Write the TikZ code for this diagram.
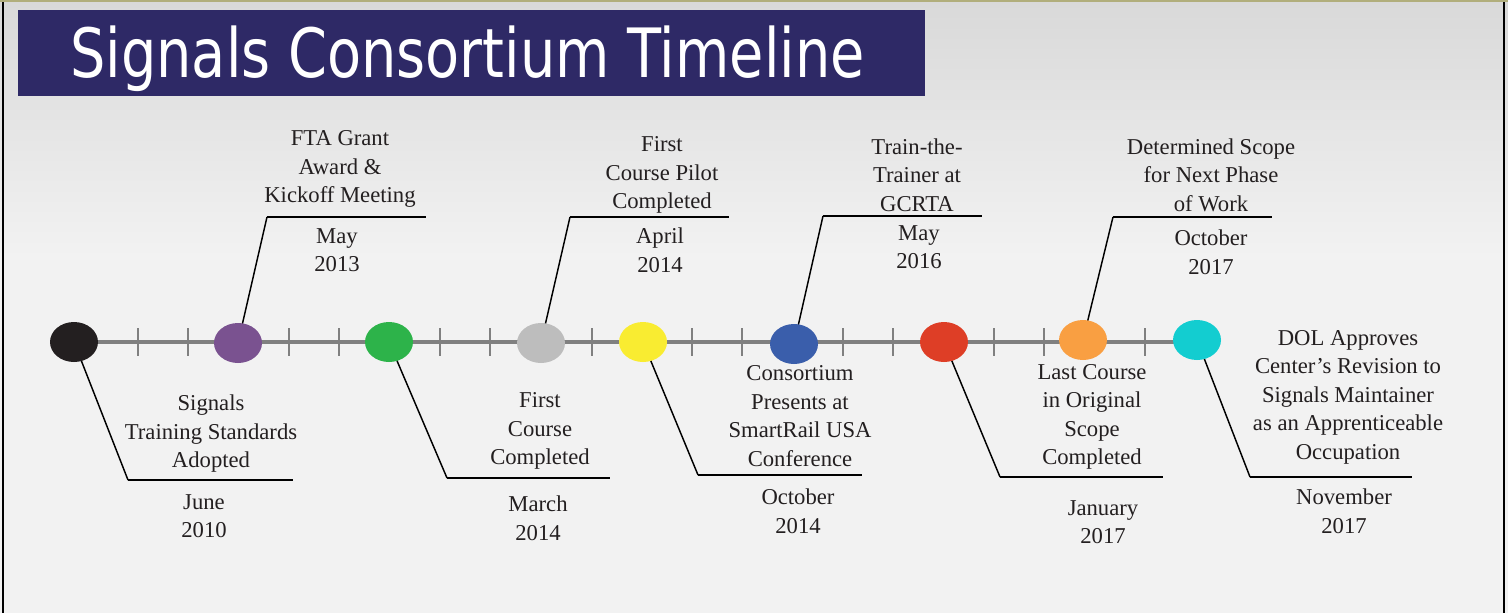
\documentclass[tikz,border=0pt]{standalone}
\usepackage{fontspec}
\setmainfont{Liberation Serif}
\newfontfamily\titlefont{DejaVu Sans}
\usetikzlibrary{shapes.geometric,backgrounds}
\definecolor{bannerc}{HTML}{2E2966}
\definecolor{linec}{HTML}{808080}
\definecolor{txtc}{HTML}{231F20}
\definecolor{cA}{HTML}{231F20}
\definecolor{cB}{HTML}{7A5290}
\definecolor{cC}{HTML}{2DB34A}
\definecolor{cD}{HTML}{BDBDBD}
\definecolor{cE}{HTML}{F9EC31}
\definecolor{cF}{HTML}{3A5EAB}
\definecolor{cG}{HTML}{DE3E26}
\definecolor{cH}{HTML}{F99F42}
\definecolor{cI}{HTML}{13CDD0}
\tikzset{
  dot/.style={ellipse, minimum width=36pt, minimum height=30pt, inner sep=0pt},
  tickmark/.style={draw=linec, line width=1.9pt},
  conn/.style={draw=black, line width=1.1pt},
  uline/.style={draw=black, line width=1.9pt},
  lbl/.style={align=center, text=txtc, inner sep=0pt, font=\fontsize{17}{21.4}\selectfont},
}
\begin{document}
\begin{tikzpicture}[x=0.75pt, y=-0.75pt]
\useasboundingbox (0,0) rectangle (1508,613);
\begin{scope}[on background layer]
% background
\fill[top color=black!15, bottom color=black!5] (0,0) rectangle (1508,260);
\fill[black!5] (0,260) rectangle (1508,613);
\draw[black, line width=2pt] (3,0) -- (3,613);
\draw[black, line width=2pt] (1504,0) -- (1504,613);
\draw[olive!60!black!50, line width=0.8pt] (0,1) -- (1508,1);
% banner
\fill[bannerc] (18,10) rectangle (925,96);
\end{scope}
\node[anchor=base west, inner sep=0pt, text=white] (title) at (70,78)
  {\scalebox{0.82}[1]{\titlefont\fontsize{51}{60}\selectfont Signals Consortium Timeline}};

% dots
\node[dot, fill=cA] (e1) at (74,342) {};
\node[dot, fill=cB] (e2) at (238,343) {};
\node[dot, fill=cC] (e3) at (389,342) {};
\node[dot, fill=cD] (e4) at (541,343) {};
\node[dot, fill=cE] (e5) at (643,342) {};
\node[dot, fill=cF] (e6) at (794,344) {};
\node[dot, fill=cG] (e7) at (944,342) {};
\node[dot, fill=cH] (e8) at (1083,340) {};
\node[dot, fill=cI] (e9) at (1197,340) {};

\begin{scope}[on background layer]
\draw[draw=linec, line width=3pt] (e1.center) -- (e1.center -| e9.center);
\foreach \x in {138,188,289,339,440,490,592,692,742,843,893,994,1044,1145}
  \draw[tickmark] (\x,328) -- (\x,356);
% connector coordinates
\coordinate (k1) at (128,480); \coordinate (m1) at (293,480);
\coordinate (k2) at (267,217); \coordinate (m2) at (426,217);
\coordinate (k3) at (447,478); \coordinate (m3) at (610,478);
\coordinate (k4) at (570,217); \coordinate (m4) at (729,217);
\coordinate (k5) at (698,475); \coordinate (m5) at (862,475);
\coordinate (k6) at (823,216); \coordinate (m6) at (982,216);
\coordinate (k7) at (1000,477); \coordinate (m7) at (1163,477);
\coordinate (k8) at (1113,217); \coordinate (m8) at (1272,217);
\coordinate (k9) at (1250,477); \coordinate (m9) at (1412,477);
\foreach \i in {1,...,9}{
  \draw[conn] (e\i.center) -- (k\i);
  \draw[uline] (k\i) -- (m\i);
}
\end{scope}

% labels
\node[lbl] (t1) at (211,434) {Signals\\Training Standards\\Adopted};
\node[lbl] (d1) at (204,516) {June\\2010};
\node[lbl] (t2) at (340,169) {FTA Grant\\Award \&\\Kickoff Meeting};
\node[lbl] (d2) at (337,250) {May\\2013};
\node[lbl] (t3) at (540,431) {First\\Course\\Completed};
\node[lbl] (d3) at (538,518) {March\\2014};
\node[lbl] (t4) at (662,175) {First\\Course Pilot\\Completed};
\node[lbl] (d4) at (660,250) {April\\2014};
\node[lbl] (t5) at (800,416) {Consortium\\Presents at\\SmartRail USA\\Conference};
\node[lbl] (d5) at (798,511) {October\\2014};
\node[lbl] (t6) at (917,175) {Train-the-\\Trainer at\\GCRTA};
\node[lbl] (d6) at (919,247) {May\\2016};
\node[lbl] (t7) at (1092,417) {Last Course\\in Original\\Scope\\Completed};
\node[lbl] (d7) at (1103,522) {January\\2017};
\node[lbl] (t8) at (1211,175) {Determined Scope\\for Next Phase\\of Work};
\node[lbl] (d8) at (1211,252) {October\\2017};
\node[lbl] (t9) at (1348,397) {DOL Approves\\Center's Revision to\\Signals Maintainer\\as an Apprenticeable\\Occupation};
\node[lbl] (d9) at (1344,511) {November\\2017};
\end{tikzpicture}
\end{document}
